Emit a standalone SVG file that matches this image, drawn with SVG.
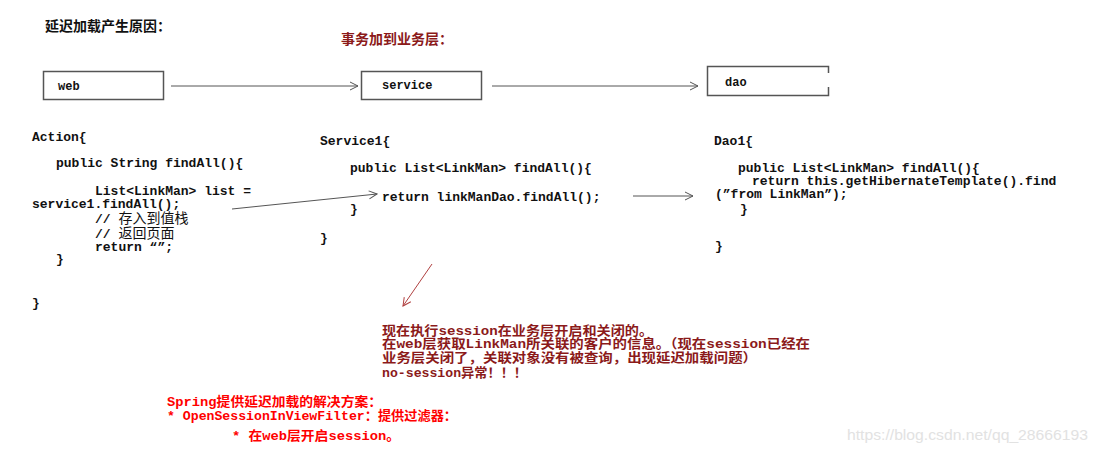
<svg xmlns="http://www.w3.org/2000/svg" width="1099" height="455" viewBox="0 0 1099 455">
<defs>
<style>
.code{font-family:"Liberation Mono","Noto Sans CJK SC",monospace;font-size:13px;font-weight:bold;fill:#111;}
.box{fill:#fff;stroke:#555;stroke-width:1.5;}
.lbl{font-family:"Liberation Mono","Noto Sans CJK SC",monospace;font-size:12px;font-weight:bold;fill:#111;}
.title{font-family:"Noto Sans CJK SC",sans-serif;font-size:14px;font-weight:bold;fill:#111;}
.dred{font-family:"Liberation Mono","Noto Sans CJK SC",monospace;font-size:13px;font-weight:bold;fill:#8b1a1a;}
.red{font-family:"Liberation Mono","Noto Sans CJK SC",monospace;font-size:13px;font-weight:bold;fill:#ff0000;}
.conn{fill:none;stroke:#555;stroke-width:1;}
.connr{fill:none;stroke:#b04040;stroke-width:1;}
.wm{font-family:"Liberation Sans",sans-serif;font-size:14px;fill:#e2e2e2;}
</style>
<marker id="ah" markerWidth="10" markerHeight="10" refX="9" refY="5" orient="auto" markerUnits="userSpaceOnUse">
<path d="M1,1 L9,5 L1,9" fill="none" stroke="#555" stroke-width="1"/>
</marker>
<marker id="ahr" markerWidth="10" markerHeight="10" refX="9" refY="5" orient="auto" markerUnits="userSpaceOnUse">
<path d="M1,1 L9,5 L1,9" fill="none" stroke="#b04040" stroke-width="1"/>
</marker>
</defs>
<rect width="1099" height="455" fill="#fff"/>

<text class="title" x="45" y="31">延迟加载产生原因：</text>
<text class="title" x="341" y="44" style="fill:#8b1a1a">事务加到业务层：</text>

<g id="web">
<rect class="box" x="43.5" y="71.5" width="120" height="28"/>
<text class="lbl" x="58" y="90">web</text>
</g>
<g id="service">
<rect class="box" x="361.5" y="71.5" width="120" height="28"/>
<text class="lbl" x="382" y="89">service</text>
</g>
<g id="dao">
<path class="box" d="M828.5,73 V66.5 H707.5 V95.5 H828.5 V87"/>
<text class="lbl" x="725" y="86">dao</text>
</g>

<g id="action">
<text class="code" x="32" y="141">Action{</text>
<text class="code" x="56" y="167">public String findAll(){</text>
<text class="code" x="95" y="195">List&lt;LinkMan&gt; list =</text>
<text class="code" x="32" y="208">service1.findAll();</text>
<text class="code" x="95" y="223">// <tspan font-size="14" font-weight="normal">存入到值栈</tspan></text>
<text class="code" x="95" y="238">// <tspan font-size="14" font-weight="normal">返回页面</tspan></text>
<text class="code" x="95" y="251">return “”;</text>
<text class="code" x="56" y="263">}</text>
<text class="code" x="32" y="307">}</text>
</g>

<g id="service1">
<text class="code" x="320" y="145">Service1{</text>
<text class="code" x="350" y="172">public List&lt;LinkMan&gt; findAll(){</text>
<text class="code" x="382" y="201">return linkManDao.findAll();</text>
<text class="code" x="350" y="213">}</text>
<text class="code" x="320" y="242">}</text>
</g>

<g id="dao1">
<text class="code" x="714" y="145">Dao1{</text>
<text class="code" x="738" y="172">public List&lt;LinkMan&gt; findAll(){</text>
<text class="code" x="752" y="185">return this.getHibernateTemplate().find</text>
<text class="code" x="715" y="198">(”from LinkMan”);</text>
<text class="code" x="740" y="213">}</text>
<text class="code" x="715" y="250">}</text>
</g>

<g id="connectors">
<line class="conn" x1="171" y1="86" x2="358" y2="86" marker-end="url(#ah)"/>
<line class="conn" x1="492" y1="86" x2="698" y2="86" marker-end="url(#ah)"/>
<line class="conn" x1="232" y1="209" x2="377" y2="194" marker-end="url(#ah)"/>
<line class="conn" x1="633" y1="196" x2="693" y2="196" marker-end="url(#ah)"/>
<line class="connr" x1="432" y1="264" x2="403" y2="306" marker-end="url(#ahr)"/>
</g>

<g id="note">
<text class="dred" x="382" y="335" textLength="271" lengthAdjust="spacingAndGlyphs">现在执行session在业务层开启和关闭的。</text>
<text class="dred" x="382" y="348" textLength="428" lengthAdjust="spacingAndGlyphs">在web层获取LinkMan所关联的客户的信息。（现在session已经在</text>
<text class="dred" x="382" y="362" textLength="375" lengthAdjust="spacingAndGlyphs">业务层关闭了，关联对象没有被查询，出现延迟加载问题）</text>
<text class="dred" x="382" y="377" textLength="145" lengthAdjust="spacingAndGlyphs">no-session异常！！！</text>
</g>

<g id="solution">
<text class="red" x="167" y="406" textLength="215" lengthAdjust="spacingAndGlyphs">Spring提供延迟加载的解决方案：</text>
<text class="red" x="167" y="420" textLength="290" lengthAdjust="spacingAndGlyphs">* OpenSessionInViewFilter：提供过滤器：</text>
<text class="red" x="232" y="440" textLength="168" lengthAdjust="spacingAndGlyphs">* 在web层开启session。</text>
</g>

<text class="wm" x="847" y="440" textLength="241" lengthAdjust="spacingAndGlyphs">https://blog.csdn.net/qq_28666193</text>
</svg>
